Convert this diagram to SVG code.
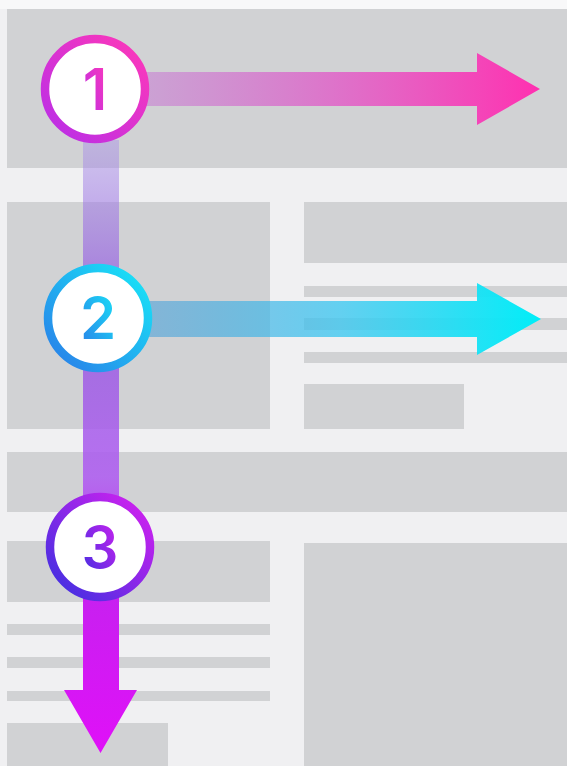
<svg xmlns="http://www.w3.org/2000/svg" width="567" height="766" viewBox="0 0 567 766">
  <style>
    .blk { fill: #d1d2d4; }
    .ring { fill: #ffffff; stroke-width: 8.5; }
    .num { font-family: Inter, "Noto Sans", sans-serif; font-size: 58px; font-weight: 600; text-anchor: middle; dominant-baseline: central; }
  </style>
  <defs>
    <linearGradient id="gA1" gradientUnits="userSpaceOnUse" x1="130" y1="0" x2="540" y2="0">
      <stop offset="0" stop-color="#c478d4" stop-opacity="0.5"/>
      <stop offset="0.5" stop-color="#e062c8" stop-opacity="0.85"/>
      <stop offset="1" stop-color="#ff30b0" stop-opacity="1"/>
    </linearGradient>
    <linearGradient id="gA2" gradientUnits="userSpaceOnUse" x1="140" y1="0" x2="541" y2="0">
      <stop offset="0" stop-color="#3a98d8" stop-opacity="0.5"/>
      <stop offset="0.5" stop-color="#40c8f0" stop-opacity="0.8"/>
      <stop offset="1" stop-color="#00eef8" stop-opacity="1"/>
    </linearGradient>
    <linearGradient id="gV" gradientUnits="userSpaceOnUse" x1="0" y1="140" x2="0" y2="753">
      <stop offset="0" stop-color="#a890e8" stop-opacity="0.45"/>
      <stop offset="0.28" stop-color="#9050e0" stop-opacity="0.75"/>
      <stop offset="0.55" stop-color="#b060f0" stop-opacity="0.9"/>
      <stop offset="0.75" stop-color="#c820f0" stop-opacity="1"/>
      <stop offset="1" stop-color="#e010f8" stop-opacity="1"/>
    </linearGradient>
    <linearGradient id="gC1" x1="0" y1="1" x2="1" y2="0">
      <stop offset="0" stop-color="#b82ee8"/>
      <stop offset="1" stop-color="#ff38b8"/>
    </linearGradient>
    <linearGradient id="gC2" x1="0" y1="1" x2="1" y2="0">
      <stop offset="0" stop-color="#2a7ce8"/>
      <stop offset="1" stop-color="#18e8f8"/>
    </linearGradient>
    <linearGradient id="gC3" x1="0" y1="1" x2="1" y2="0">
      <stop offset="0" stop-color="#3a30e0"/>
      <stop offset="1" stop-color="#d820f0"/>
    </linearGradient>
  </defs>

  <!-- page background / wireframe -->
  <rect x="0" y="0" width="567" height="766" fill="#f0f0f2"/>
  <rect x="0" y="0" width="567" height="9" fill="#f8f8f9"/>
  <g id="wireframe">
    <rect class="blk" x="7" y="9" width="560" height="159"/>
    <rect class="blk" x="7" y="202" width="263" height="227"/>
    <rect class="blk" x="304" y="202" width="263" height="61"/>
    <rect class="blk" x="304" y="286" width="263" height="11"/>
    <rect class="blk" x="304" y="318" width="263" height="12"/>
    <rect class="blk" x="304" y="352" width="263" height="11"/>
    <rect class="blk" x="304" y="384" width="160" height="45"/>
    <rect class="blk" x="7" y="452" width="560" height="60"/>
    <rect class="blk" x="7" y="541" width="263" height="61"/>
    <rect class="blk" x="7" y="624" width="263" height="11"/>
    <rect class="blk" x="7" y="657" width="263" height="11"/>
    <rect class="blk" x="7" y="691" width="263" height="10"/>
    <rect class="blk" x="7" y="723" width="161" height="43"/>
    <rect class="blk" x="304" y="543" width="263" height="223"/>
  </g>

  <g id="connectors">
    <path id="arrow-v" d="M83,140 V690 H64 L100.5,753 L137,690 H119 V140 Z" fill="url(#gV)"/>
    <path id="arrow-1" d="M130,72 H477 V53 L540,89 L477,125 V106 H130 Z" fill="url(#gA1)"/>
    <path id="arrow-2" d="M140,301 H477 V283 L541,319 L477,355 V337 H140 Z" fill="url(#gA2)"/>
  </g>

  <g id="node-1">
    <circle class="ring" cx="95" cy="89" r="50" stroke="url(#gC1)"/>
    <text class="num" x="95" y="89" fill="url(#gC1)">1</text>
  </g>
  <g id="node-2">
    <circle class="ring" cx="98" cy="318" r="50" stroke="url(#gC2)"/>
    <text class="num" x="98" y="318" fill="url(#gC2)">2</text>
  </g>
  <g id="node-3">
    <circle class="ring" cx="100" cy="547" r="50" stroke="url(#gC3)"/>
    <text class="num" x="100" y="547" fill="url(#gC3)">3</text>
  </g>
</svg>
